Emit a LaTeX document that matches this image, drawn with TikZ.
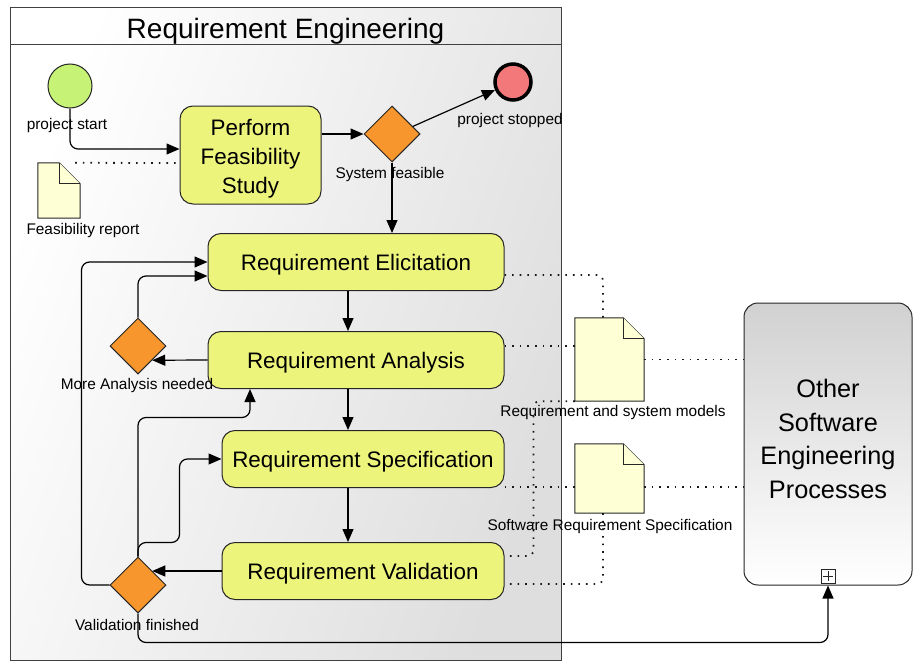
\documentclass[tikz,border=0pt]{standalone}
\usepackage{fontspec}
\setmainfont{Liberation Sans}
\usetikzlibrary{arrows.meta, positioning, shapes.geometric}
\definecolor{taskyellow}{RGB}{237,244,124}
\definecolor{gateorange}{RGB}{247,150,44}
\definecolor{startgreen}{RGB}{198,242,118}
\definecolor{endred}{RGB}{242,120,122}
\definecolor{docyellow}{RGB}{255,255,214}

% dog-eared page drawn over an empty node
\newcommand{\docpage}[1]{%
  \draw[docline] (#1.south west) -- (#1.north west) -- ([xshift=-21pt]#1.north east)
    -- ([yshift=-21pt]#1.north east) -- (#1.south east) -- cycle;
  \draw[docline] ([xshift=-21pt]#1.north east) |- ([yshift=-21pt]#1.north east);}

\begin{document}
\begin{tikzpicture}[x=1pt, y=-1pt,
  pool/.style={draw=black!75, line width=1pt, top color=white, bottom color=black!13,
               shading angle=70, minimum width=551, minimum height=653, inner sep=0},
  poolhead/.style={draw=black!75, line width=1pt, minimum width=551, minimum height=37,
               inner sep=0, text height=25pt, text depth=0pt,
               font=\fontsize{28}{32}\selectfont},
  task/.style={draw=black!85, line width=1pt, fill=taskyellow, rounded corners=13pt,
               minimum height=57, inner sep=2pt, align=center,
               font=\fontsize{22.4}{29}\selectfont},
  oneline/.style={text height=22pt, text depth=5pt},
  gateway/.style={diamond, draw=black!85, line width=1pt, fill=gateorange,
               minimum width=56, minimum height=56, inner sep=0},
  startev/.style={circle, draw=black!85, line width=1pt, fill=startgreen,
               minimum size=44, inner sep=0},
  endev/.style={circle, draw=black, line width=3.5pt, fill=endred,
               minimum size=36, inner sep=0},
  docbox/.style={minimum width=#1, inner sep=0},
  docline/.style={draw=black!85, line width=1pt, fill=docyellow},
  subproc/.style={draw=black!85, line width=1pt, rounded corners=14pt,
               top color=black!18, bottom color=white, minimum width=168,
               minimum height=282, align=center, text depth=10pt,
               font=\fontsize{25.3}{33.5}\selectfont},
  plusbox/.style={draw=black!85, line width=1pt, fill=white, minimum size=14, inner sep=0,
               path picture={\draw[line width=1pt]
                 ([yshift=-2pt]path picture bounding box.north) -- ([yshift=2pt]path picture bounding box.south)
                 ([xshift=2pt]path picture bounding box.west) -- ([xshift=-2pt]path picture bounding box.east);}},
  lbl/.style={font=\fontsize{15.4}{18}\selectfont, inner sep=0},
  flow/.style={-{Triangle[length=13pt, width=11pt]}, line width=1.2pt, rounded corners=8pt},
  assoc/.style={line width=1.8pt, dash pattern=on 1.6pt off 6pt, black!90, rounded corners=6pt}
]
\useasboundingbox (0,0) rectangle (913,661);

% pool
\node[pool] (pool) at (285.5,334) {};
\node[poolhead, anchor=north] (poolhead) at (pool.north) {Requirement Engineering};

% events, tasks, gateways
\node[startev] (start) at (70,86) {};
\node[lbl] (startlbl) at (67,126) {project start};
\node[task, minimum width=141, minimum height=98, text height=82pt] (feas) at (250.5,155) {Perform\\Feasibility\\Study};
\node[gateway] (sysfeas) at (392,134) {};
\node[lbl] (sysfeaslbl) at (390,175) {System feasible};
\node[endev] (stop) at (513,82) {};
\node[lbl] (stoplbl) at (510,121) {project stopped};

\node[task, oneline, minimum width=296] (elic)  at (356,262) {Requirement Elicitation};
\node[task, oneline, minimum width=296] (anal)  at (356,360) {Requirement Analysis};
\node[task, oneline, minimum width=282] (spec)  at (363,459) {Requirement Specification};
\node[task, oneline, minimum width=282] (valid) at (363,571) {Requirement Validation};

\node[gateway] (moregw) at (138,346) {};
\node[lbl] (morelbl) at (137,386) {More Analysis needed};
\node[gateway] (valgw) at (138,585) {};
\node[lbl] (vallbl) at (137,625) {Validation finished};

% documents
\node[docbox=42, minimum height=55] (feasdoc) at (59,190.5) {};
\docpage{feasdoc}
\node[lbl] (feasdoclbl) at (83,231) {Feasibility report};
\node[docbox=69, minimum height=83] (models) at (609.5,359.5) {};
\docpage{models}
\node[lbl] (modelslbl) at (613,413) {Requirement and system models};
\node[docbox=69, minimum height=69] (srs) at (609.5,478.5) {};
\docpage{srs}
\node[lbl] (srslbl) at (610,527) {Software Requirement Specification};

% collapsed sub-process
\node[subproc] (other) at (828,444) {Other\\Software\\Engineering\\Processes};
\node[plusbox] (otherplus) at (828,576) {};

% sequence flows
\draw[flow] (start.south) |- ([yshift=6pt]feas.west);
\draw[flow] (feas.east |- sysfeas) -- (sysfeas.west);
\draw[flow] (sysfeas.20) -- (stop);
\draw[flow] (sysfeas.south) -- (sysfeas.south |- elic.north);
\draw[flow] ([xshift=-8pt]elic.south) -- ([xshift=-8pt]anal.north);
\draw[flow] ([xshift=-8pt]anal.south) -- ([xshift=-15pt]spec.north);
\draw[flow] ([xshift=-15pt]spec.south) -- ([xshift=-15pt]valid.north);
\draw[flow] (anal.west) -- (moregw.south east);
\draw[flow] (moregw.north) |- ([yshift=-14pt]elic.west);
\draw[flow] (valid.west) -- (valgw.north east |- valid.west);
\draw[flow] (valgw.west) -| ([xshift=-126pt]elic.west) -- (elic.west);
\draw[flow] (valgw.north) -- ++(0,-139) -| ([xshift=-106pt]anal.south);
\draw[flow] (valgw.north) -- ++(0,-14) -| ([xshift=-42pt]spec.west) -- (spec.west);
\draw[flow] (valgw.south) -- ++(0,29) -| (other.south);

% data associations
\draw[assoc] ([xshift=-5pt]feasdoc.north east) -- ([yshift=-8pt]feas.west);
\draw[assoc] ([yshift=-13pt]elic.east) -| ([xshift=-6.5pt]models.north);
\draw[assoc] ([yshift=14pt]anal.east) -- ([yshift=14pt]anal.east -| models.west);
\draw[assoc] (models.east) -- (models.east -| other.west);
\draw[assoc] (models.south west) -| ([xshift=29pt,yshift=15pt]valid.east) -- ([yshift=15pt]valid.east);
\draw[assoc] ([yshift=-28pt]spec.east) -- ([yshift=-28pt]spec.east -| srs.west);
\draw[assoc] ([yshift=-28pt]spec.east -| srs.east) -- ([yshift=-28pt]spec.east -| other.west);
\draw[assoc] ([xshift=-6.5pt]srs.south) |- ([yshift=-13pt]valid.east);
\end{tikzpicture}
\end{document}
